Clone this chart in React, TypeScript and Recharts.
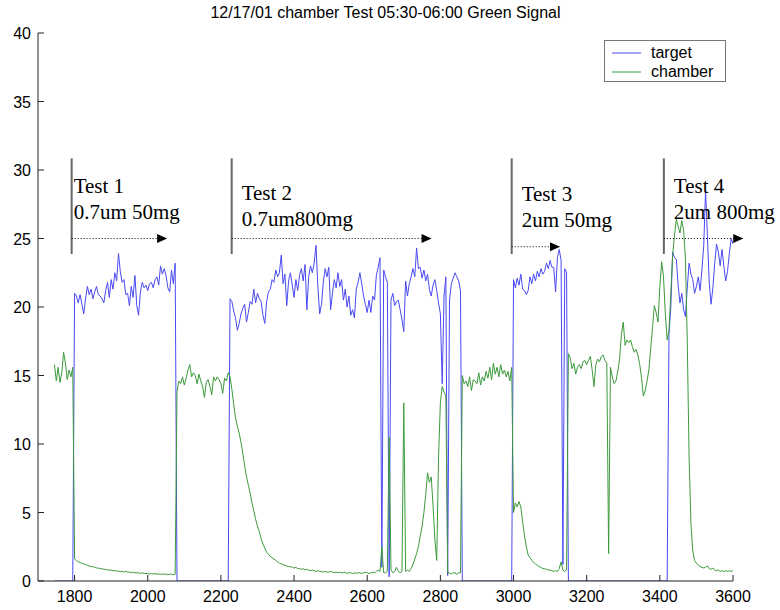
import React from 'react';
import { LineChart, Line, XAxis, YAxis, Legend, ReferenceLine, ReferenceDot } from 'recharts';

// samples every 5 s starting at 1745
const START = 1745;
const STEP = 5;

const target = [
  0, 0, 0, 0, 0, 0, 0, 0, 0, 0,
  0, 21.0, 20.8, 20.3, 20.9, 20.2, 19.5, 20.6, 21.5, 20.9,
  21.3, 20.6, 21.1, 21.5, 20.9, 20.8, 20.6, 20.3, 21.2, 21.8,
  20.7, 22.0, 21.3, 22.5, 21.9, 23.9, 22.6, 21.8, 22.0, 20.9,
  21.0, 20.1, 21.5, 20.7, 22.3, 20.1, 19.4, 21.1, 21.8, 21.4,
  21.6, 21.2, 21.7, 21.8, 21.4, 22.0, 22.2, 21.6, 23.0, 22.4,
  22.8, 22.3, 21.4, 21.1, 22.7, 21.7, 23.2, 0, 0, 0,
  0, 0, 0, 0, 0, 0, 0, 0, 0, 0,
  0, 0, 0, 0, 0, 0, 0, 0, 0, 0,
  0, 0, 0, 0, 0, 0, 20.6, 20.4, 19.7, 19.2,
  18.3, 18.8, 19.5, 19.9, 20.2, 18.9, 19.6, 20.4, 20.2, 21.3,
  20.3, 21.0, 20.6, 20.4, 19.4, 18.8, 20.4, 21.1, 21.3, 22.0,
  21.8, 22.7, 22.2, 22.5, 23.8, 21.7, 22.4, 20.1, 21.9, 22.5,
  21.6, 20.7, 22.0, 21.2, 22.3, 22.8, 21.9, 23.1, 19.8, 22.2,
  23.0, 22.5, 23.2, 24.5, 21.5, 19.5, 20.2, 21.8, 22.8, 22.2,
  22.9, 19.8, 21.0, 22.0, 21.4, 22.5, 21.5, 22.0, 20.5, 21.3,
  20.0, 20.8, 19.4, 19.8, 19.2, 21.3, 21.8, 22.5, 21.7, 20.8,
  20.2, 19.6, 20.5, 19.6, 20.8, 20.5, 22.3, 22.9, 23.6, 1.0,
  22.7, 22.2, 21.8, 0.3, 20.5, 21.0, 20.1, 20.4, 20.5, 19.8,
  19.1, 18.2, 21.9, 20.8, 21.7, 22.2, 22.8, 22.2, 24.3, 22.8,
  22.9, 22.1, 22.7, 21.9, 22.4, 21.3, 20.8, 21.6, 22.0, 21.2,
  20.3, 19.5, 14.4, 20.8, 22.2, 0.4, 20.5, 21.7, 22.1, 22.5,
  22.2, 21.9, 21.2, 0, 0, 0, 0, 0, 0, 0,
  0, 0, 0, 0, 0, 0, 0, 0, 0, 0,
  0, 0, 0, 0, 0, 0, 0, 0, 0, 0,
  0, 22.0, 21.4, 22.1, 21.6, 22.4, 21.3, 21.2, 20.9, 21.2,
  22.2, 21.7, 22.4, 21.9, 22.6, 22.2, 22.8, 22.4, 22.6, 23.2,
  22.8, 23.4, 22.9, 22.9, 21.1, 23.6, 24.2, 23.4, 1.2, 22.8,
  22.5, 0, 0, 0, 0, 0, 0, 0, 0, 0,
  0, 0, 0, 0, 0, 0, 0, 0, 0, 0,
  0, 0, 0, 0, 0, 0, 0, 0, 0, 0,
  0, 0, 0, 0, 0, 0, 0, 0, 0, 0,
  0, 0, 0, 0, 0, 0, 0, 0, 0, 0,
  0, 0, 0, 0, 0, 0, 18.0, 20.0, 24.0, 23.6,
  23.5, 21.6, 20.3, 21.0, 19.8, 19.3, 21.4, 23.2, 22.4, 22.0,
  21.0, 21.5, 22.2, 21.2, 22.7, 24.5, 28.5, 25.2, 21.8, 20.2,
  21.4, 23.2, 24.6, 24.0, 23.0, 24.2, 23.0, 21.9, 22.6, 23.9,
  25.0, 24.6,
];

const chamber = [
  15.8, 14.6, 15.6, 14.5, 15.2, 16.7, 15.9, 14.7, 15.4, 14.9,
  15.6, 1.6, 1.5, 1.4, 1.35, 1.3, 1.25, 1.2, 1.15, 1.1,
  1.05, 1.05, 1.0, 0.95, 0.95, 0.9, 0.9, 0.85, 0.85, 0.8,
  0.8, 0.8, 0.75, 0.75, 0.75, 0.7, 0.7, 0.7, 0.65, 0.7,
  0.65, 0.65, 0.6, 0.65, 0.6, 0.6, 0.6, 0.55, 0.6, 0.55,
  0.55, 0.55, 0.5, 0.55, 0.5, 0.55, 0.5, 0.5, 0.5, 0.5,
  0.5, 0.5, 0.45, 0.5, 0.5, 0.45, 0.5, 13.8, 14.6, 14.4,
  14.9, 14.3, 14.8, 15.4, 15.8, 14.9, 15.2, 15.0, 14.4, 15.1,
  14.6, 14.2, 13.4, 14.5, 14.7, 14.2, 13.6, 14.9, 14.6, 14.9,
  14.7, 14.4, 13.7, 14.8, 14.6, 15.2, 14.9, 14.0, 12.9, 11.9,
  11.3, 10.8, 10.1, 9.3, 8.4, 7.6, 7.0, 6.4, 5.7, 5.1,
  4.5, 4.0, 3.6, 3.1, 2.7, 2.4, 2.1, 1.95, 1.8, 1.7,
  1.6, 1.5, 1.4, 1.3, 1.25, 1.2, 1.15, 1.1, 1.05, 1.05,
  1.0, 0.95, 1.0, 0.9, 0.9, 0.85, 0.9, 0.8, 0.85, 0.8,
  0.75, 0.8, 0.75, 0.7, 0.75, 0.7, 0.7, 0.65, 0.7, 0.65,
  0.65, 0.7, 0.65, 0.6, 0.65, 0.6, 0.65, 0.6, 0.6, 0.65,
  0.55, 0.6, 0.6, 0.55, 0.6, 0.55, 0.6, 0.6, 0.55, 0.6,
  0.65, 0.6, 0.55, 0.6, 0.65, 0.6, 0.7, 0.8, 0.7, 2.5,
  0.6, 0.6, 0.7, 10.5, 0.8, 0.6, 0.7, 1.0, 0.7, 0.6,
  0.7, 13.0, 0.7, 0.8, 0.7, 0.9, 1.2, 1.6, 2.0, 2.5,
  3.3, 4.0, 5.0, 6.3, 7.9, 7.2, 7.6, 5.5, 3.0, 1.5,
  9.0, 13.0, 14.2, 13.8, 13.5, 0.6, 0.6, 0.5, 0.6, 0.6,
  0.5, 0.6, 0.6, 15.0, 14.4, 14.6, 14.2, 14.9, 13.9, 14.7,
  14.6, 14.4, 15.2, 14.3, 14.9, 14.6, 15.3, 14.8, 15.6, 14.7,
  15.9, 15.1, 15.6, 14.9, 15.8, 15.1, 15.4, 14.9, 15.3, 14.6,
  15.6, 5.0, 5.7, 5.4, 5.8, 5.4, 4.3, 3.3, 2.5, 1.9,
  1.7, 1.5, 1.35, 1.25, 1.15, 1.05, 1.0, 0.9, 0.9, 0.85,
  0.8, 0.8, 0.75, 0.7, 0.75, 0.7, 0.9, 1.4, 0.8, 0.7,
  0.8, 16.6, 16.3, 15.5, 15.9, 15.1, 15.6, 15.8, 15.5, 16.0,
  16.1, 15.8, 16.1, 16.4, 15.4, 14.2, 15.8, 16.2, 16.0, 16.4,
  16.5, 16.1, 15.9, 2.0, 15.6, 14.9, 14.4, 14.6, 15.3, 16.2,
  18.0, 18.9, 17.2, 17.6, 17.4, 17.6, 17.1, 16.7, 16.9, 16.5,
  15.8, 14.8, 13.5, 13.9, 14.6, 15.4, 17.0, 18.5, 20.1, 19.6,
  18.9, 21.5, 23.3, 22.2, 19.5, 17.6, 18.3, 21.0, 23.8, 25.2,
  26.4, 25.9, 25.4, 26.3, 25.6, 23.5, 17.5, 9.0, 4.2, 2.2,
  1.5, 1.3, 1.15, 1.05, 1.0, 0.95, 1.0, 1.1, 0.9, 0.85,
  0.95, 0.8, 0.75, 0.8, 0.7, 0.75, 0.7, 0.75, 0.7, 0.75,
  0.7, 0.75,
];

const xTicks = [1800, 2000, 2200, 2400, 2600, 2800, 3000, 3200, 3400, 3600];
const yTicks = [0, 5, 10, 15, 20, 25, 30, 35, 40];

const series = [
  { key: 'target', color: '#4a4af2' },
  { key: 'chamber', color: '#3c9a3c' },
];

// hand drawn test markers
const tests = [
  { x: 1792, textY: 28.34, dx: 2, arrowY: 25.0, arrowTo: 2053, lines: ['Test 1', '0.7um 50mg'] },
  { x: 2229.5, textY: 27.8, dx: 10, arrowY: 25.0, arrowTo: 2776, lines: ['Test 2', '0.7um800mg'] },
  { x: 2995, textY: 27.76, dx: 10, arrowY: 24.4, arrowTo: 3127, lines: ['Test 3', '2um 50mg'] },
  { x: 3411, textY: 28.34, dx: 10, arrowY: 25.0, arrowTo: 3628, lines: ['Test 4', '2um 800mg'] },
];
const MARK_TOP = 30.85;
const MARK_BOTTOM = 23.87;

const data = target.map((v, i) => ({ time: START + i * STEP, target: v, chamber: chamber[i] }));

const sans = '"Liberation Sans", Arial, Helvetica, sans-serif';
const serif = '"Liberation Serif", "Times New Roman", serif';
const axisColor = '#222';

const BottomTick = (props: any) => {
  const { x, y, payload } = props;
  return (
    <g>
      <line x1={x} y1={y} x2={x} y2={y - 6} stroke={axisColor} />
      <text x={x} y={y + 21} textAnchor="middle" fontSize={16} fontFamily={sans} fill="#000">
        {payload.value}
      </text>
    </g>
  );
};

const LeftTick = (props: any) => {
  const { x, y, payload } = props;
  return (
    <g>
      <line x1={x} y1={y} x2={x + 6} y2={y} stroke={axisColor} />
      <text x={x - 7} y={y + 6} textAnchor="end" fontSize={16} fontFamily={sans} fill="#000">
        {payload.value}
      </text>
    </g>
  );
};

const TopTick = (props: any) => (
  <line x1={props.x} y1={props.y} x2={props.x} y2={props.y + 6} stroke={axisColor} />
);

const RightTick = (props: any) => (
  <line x1={props.x} y1={props.y} x2={props.x - 6} y2={props.y} stroke={axisColor} />
);

const LegendBox = () => (
  <div
    style={{
      width: 122,
      height: 42,
      boxSizing: 'border-box',
      border: '1px solid #777',
      background: '#fff',
      position: 'relative',
      fontFamily: sans,
      fontSize: 16,
    }}
  >
    {series.map((s, i) => (
      <div key={s.key} style={{ position: 'absolute', left: 7, top: 2 + i * 19, height: 19, display: 'flex', alignItems: 'center' }}>
        <svg width={30} height={4}>
          <line x1={0} y1={2} x2={29} y2={2} stroke={s.color} strokeWidth={1} />
        </svg>
        <span style={{ marginLeft: 9, lineHeight: '19px' }}>{s.key}</span>
      </div>
    ))}
  </div>
);

export default function App() {
  return (
    <div style={{ position: 'absolute', left: 0, top: 0, width: 780, height: 610, background: '#fff' }}>
      <div
        style={{
          position: 'absolute',
          left: 38,
          top: 4,
          width: 695,
          textAlign: 'center',
          fontFamily: sans,
          fontSize: 16,
          lineHeight: '18px',
        }}
      >
        12/17/01 chamber Test 05:30-06:00 Green Signal
      </div>
      <LineChart width={780} height={610} data={data} margin={{ top: 33, right: 47, bottom: 0, left: 0 }}>
        <XAxis
          dataKey="time"
          type="number"
          domain={[1700, 3600]}
          ticks={xTicks}
          allowDataOverflow
          height={29}
          tickSize={0}
          tickMargin={0}
          tickLine={false}
          tick={<BottomTick />}
          axisLine={{ stroke: axisColor }}
          interval={0}
        />
        <XAxis
          xAxisId="top"
          orientation="top"
          dataKey="time"
          type="number"
          domain={[1700, 3600]}
          ticks={xTicks}
          allowDataOverflow
          height={0}
          tickSize={0}
          tickMargin={0}
          tickLine={false}
          tick={<TopTick />}
          axisLine={{ stroke: axisColor }}
          interval={0}
        />
        <YAxis
          type="number"
          domain={[0, 40]}
          ticks={yTicks}
          allowDataOverflow
          width={38}
          tickSize={0}
          tickMargin={0}
          tickLine={false}
          tick={<LeftTick />}
          axisLine={{ stroke: axisColor }}
          interval={0}
        />
        <YAxis
          yAxisId="right"
          orientation="right"
          type="number"
          domain={[0, 40]}
          ticks={yTicks}
          allowDataOverflow
          width={0}
          tickSize={0}
          tickMargin={0}
          tickLine={false}
          tick={<RightTick />}
          axisLine={{ stroke: axisColor }}
          interval={0}
        />
        {series.map(s => (
          <Line
            key={s.key}
            dataKey={s.key}
            type="linear"
            stroke={s.color}
            strokeWidth={1}
            dot={false}
            activeDot={false}
            isAnimationActive={false}
          />
        ))}
        {tests.map(t => (
          <ReferenceLine
            key={`v-${t.x}`}
            segment={[{ x: t.x, y: MARK_TOP }, { x: t.x, y: MARK_BOTTOM }]}
            stroke="#666"
            strokeWidth={2}
            ifOverflow="visible"
          />
        ))}
        {tests.map(t => (
          <ReferenceLine
            key={`a-${t.x}`}
            segment={[{ x: t.x, y: t.arrowY }, { x: t.arrowTo, y: t.arrowY }]}
            stroke="#000"
            strokeWidth={1}
            strokeDasharray="1 2"
            ifOverflow="visible"
          />
        ))}
        {tests.map(t => (
          <ReferenceDot
            key={`h-${t.x}`}
            x={t.arrowTo}
            y={t.arrowY}
            ifOverflow="visible"
            shape={(p: any) => (
              <polygon points={`${p.cx - 10},${p.cy - 4.5} ${p.cx},${p.cy} ${p.cx - 10},${p.cy + 4.5}`} fill="#000" />
            )}
          />
        ))}
        {tests.map(t => (
          <ReferenceDot
            key={`t-${t.x}`}
            x={t.x}
            y={t.textY}
            ifOverflow="visible"
            shape={(p: any) => (
              <text x={p.cx + t.dx} y={p.cy} fontFamily={serif} fontSize={21} fill="#000">
                <tspan x={p.cx + t.dx} dy={0}>{t.lines[0]}</tspan>
                <tspan x={p.cx + t.dx} dy={26}>{t.lines[1]}</tspan>
              </text>
            )}
          />
        ))}
        <Legend
          layout="horizontal"
          verticalAlign="middle"
          align="center"
          content={() => <LegendBox />}
          wrapperStyle={{ position: 'absolute', left: 604, top: 40, width: 122, height: 42 }}
        />
      </LineChart>
    </div>
  );
}
